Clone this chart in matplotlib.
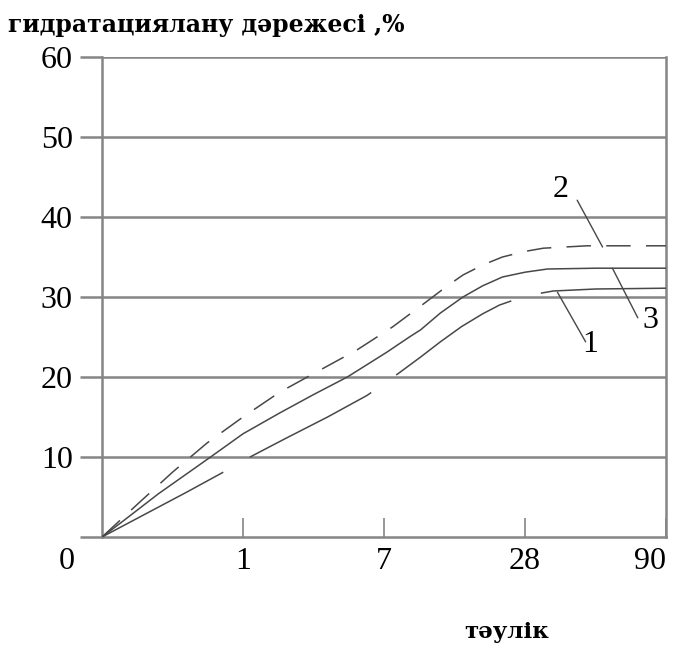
import matplotlib.pyplot as plt

# x positions are equally spaced periods: 0, 1, 7, 28, 90 days
x_ticks = [1, 2, 3, 4]
x_labels = ['1', '7', '28', '90']
y_ticks = [0, 10, 20, 30, 40, 50, 60]

# curve 1 (long dashes)
x1 = [0, 0.30, 0.60, 0.86, 1.05, 1.30, 1.60, 1.88, 2.06, 2.26, 2.40, 2.55, 2.70,
      2.82, 2.95, 3.04, 3.20, 3.50, 4.0]
y1 = [0, 2.8, 5.6, 8.1, 10.0, 12.3, 15.0, 17.7, 19.9, 22.5, 24.4, 26.3, 27.9,
      29.0, 29.8, 30.25, 30.75, 31.0, 31.1]
# curve 2 (dashed)
x2 = [0, 0.27, 0.50, 0.745, 1.0, 1.26, 1.55, 1.81, 2.06, 2.30, 2.45, 2.56, 2.70,
      2.84, 3.0, 3.13, 3.44, 4.0]
y2 = [0, 4.4, 8.1, 11.75, 15.0, 18.1, 20.9, 23.4, 26.25, 29.4, 31.4, 32.75, 34.0,
      35.0, 35.7, 36.1, 36.4, 36.4]
# curve 3 (solid)
x3 = [0, 0.15, 0.40, 0.77, 1.0, 1.26, 1.50, 1.74, 2.02, 2.18, 2.26, 2.40,
      2.56, 2.70, 2.84, 3.00, 3.16, 3.50, 4.0]
y3 = [0, 2.0, 5.4, 10.0, 12.9, 15.5, 17.8, 20.0, 23.1, 25.0, 25.9, 28.0,
      30.0, 31.4, 32.5, 33.1, 33.5, 33.6, 33.6]

grey = '#858585'
line_col = '#484848'
serif = ['Liberation Serif', 'DejaVu Serif']

fig = plt.figure(figsize=(6.77, 6.45), dpi=100)
ax = fig.add_axes([102 / 677, 1 - 537 / 645, 564 / 677, 480 / 645])

for y in y_ticks[1:]:
    ax.axhline(y, color=grey, lw=1.8, zorder=1)

ax.plot(x1, y1, color=line_col, lw=1.1, dashes=(90, 20), zorder=3)
ax.plot(x2, y2, color=line_col, lw=1.1, dashes=(16, 10), zorder=3)
ax.plot(x3, y3, color=line_col, lw=1.1, zorder=3)

ax.set_xlim(0, 4)
ax.set_ylim(0, 60)
for side in ['left', 'right', 'bottom']:
    ax.spines[side].set_color(grey)
    ax.spines[side].set_linewidth(1.8)
ax.spines['top'].set_visible(False)

ax.set_yticks(y_ticks)
ax.set_yticklabels(['', '10', '20', '30', '40', '50', '60'])
ax.tick_params(axis='y', direction='out', length=16, width=1.8, color=grey,
               pad=5, labelsize=23)
ax.set_xticks(x_ticks)
ax.set_xticklabels(x_labels)
ax.tick_params(axis='x', direction='in', length=14, width=1.2, color=grey,
               pad=7, labelsize=23)
for lab in ax.get_xticklabels() + ax.get_yticklabels():
    lab.set_family(serif)
ax.get_xticklabels()[-1].set_horizontalalignment('right')

# corner label "0"
ax.text(-0.25, -1.3, '0', ha='center', va='top', fontsize=23,
        family=serif, clip_on=False)

# curve labels with leader lines
leader = dict(arrowstyle='-', color=line_col, lw=1.0, shrinkA=0, shrinkB=0)
ax.annotate('', xy=(3.55, 36.25), xytext=(3.37, 42.1), arrowprops=leader)
ax.text(3.25, 43.4, '2', ha='center', va='center', fontsize=23, family=serif)
ax.annotate('', xy=(3.62, 33.6), xytext=(3.80, 27.4), arrowprops=leader)
ax.text(3.89, 27.1, '3', ha='center', va='center', fontsize=23, family=serif)
ax.annotate('', xy=(3.23, 30.6), xytext=(3.43, 24.4), arrowprops=leader)
ax.text(3.46, 24.0, '1', ha='center', va='center', fontsize=23, family=serif)

fig.text(8 / 677, 1 - 25 / 645, 'гидратациялану дәрежесі ,%', ha='left',
         va='center', fontsize=17, fontweight='bold', family='DejaVu Serif')
fig.text(507 / 677, 1 - 643 / 645, 'тәулік', ha='center', va='bottom',
         fontsize=16.5, fontweight='bold', family='DejaVu Serif')

fig.savefig('out.png', dpi=100)
